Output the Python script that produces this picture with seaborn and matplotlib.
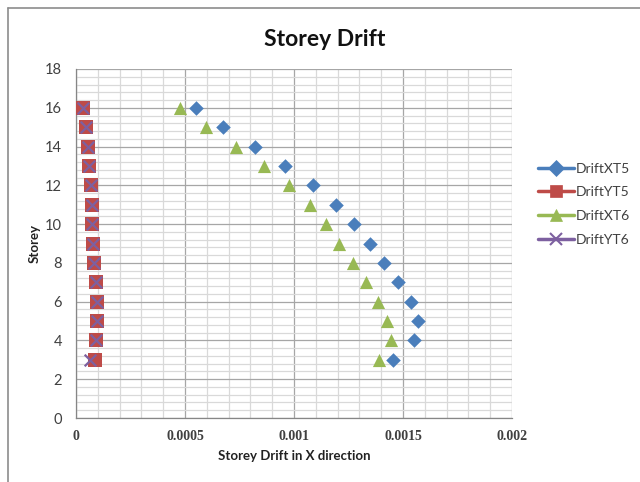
import matplotlib
matplotlib.use("Agg")
import matplotlib.pyplot as plt
from matplotlib.lines import Line2D
from matplotlib.ticker import MultipleLocator
import numpy as np
import pandas as pd
import seaborn as sns

storey = [16, 15, 14, 13, 12, 11, 10, 9, 8, 7, 6, 5, 4, 3]
drift_xt5 = [0.000549, 0.000673, 0.000821, 0.000959, 0.001087, 0.001193, 0.001277,
             0.001349, 0.001414, 0.001478, 0.001535, 0.001567, 0.001552, 0.001456]
drift_yt5 = [0.0000335, 0.0000445, 0.0000537, 0.000061, 0.0000688, 0.000072, 0.0000748,
             0.0000794, 0.000084, 0.0000904, 0.000095, 0.000095, 0.0000904, 0.0000858]
drift_xt6 = [0.000477, 0.000595, 0.000733, 0.000864, 0.000976, 0.001073, 0.001145,
             0.001208, 0.001271, 0.001330, 0.001387, 0.001428, 0.001444, 0.001390]
drift_yt6 = [0.0000335, 0.0000445, 0.0000537, 0.000061, 0.0000688, 0.000072, 0.0000748,
             0.0000794, 0.000084, 0.0000904, 0.000095, 0.000095, 0.0000904, 0.0000642]
series_names = ["DriftXT5", "DriftYT5", "DriftXT6", "DriftYT6"]
x_ticks = [0, 0.0005, 0.001, 0.0015, 0.002]
x_tick_labels = ["0", "0.0005", "0.001", "0.0015", "0.002"]

colors = {"DriftXT5": "#4a7ebb", "DriftYT5": "#be4b48",
          "DriftXT6": "#98b954", "DriftYT6": "#7d60a0"}
markers = {"DriftXT5": "D", "DriftYT5": "s", "DriftXT6": "^", "DriftYT6": "x"}
sizes = {"DriftXT5": 55, "DriftYT5": 90, "DriftXT6": 90, "DriftYT6": 70}

df = pd.concat([
    pd.DataFrame({"drift": vals, "storey": storey, "series": name})
    for name, vals in zip(series_names, [drift_xt5, drift_yt5, drift_xt6, drift_yt6])
], ignore_index=True)

sns.set_theme(style="white")
plt.rcParams["font.family"] = ["Lato", "DejaVu Sans"]

fig = plt.figure(figsize=(6.4, 4.82), dpi=100)
ax = fig.add_axes([76 / 640, 1 - 418 / 482, 436 / 640, 349 / 482])

# minor / major grid like a spreadsheet chart
ax.set_xlim(0, 0.002)
ax.set_ylim(0, 18)
ax.xaxis.set_major_locator(MultipleLocator(0.0005))
ax.xaxis.set_minor_locator(MultipleLocator(0.0001))
ax.yaxis.set_major_locator(MultipleLocator(2))
ax.yaxis.set_minor_locator(MultipleLocator(0.4))
ax.grid(which="minor", color="#d9d9d9", linewidth=0.9, zorder=0)
ax.grid(which="major", color="#a6a6a6", linewidth=0.9, zorder=0)
ax.set_axisbelow(True)

for name in series_names:
    sub = df[df["series"] == name]
    kw = dict(linewidth=0) if markers[name] != "x" else dict(linewidth=1.6)
    sns.scatterplot(data=sub, x="drift", y="storey", ax=ax, color=colors[name],
                    marker=markers[name], s=sizes[name], legend=False, zorder=3,
                    **kw)

for side in ["top", "right"]:
    ax.spines[side].set_visible(False)
for side in ["left", "bottom"]:
    ax.spines[side].set_color("#868686")
    ax.spines[side].set_linewidth(0.9)

ax.set_xticks(x_ticks)
ax.set_xticklabels(x_tick_labels, family=["Liberation Serif"], fontweight="bold",
                   fontsize=10, color="#404040")
ax.tick_params(axis="x", which="both", length=0, pad=9)
ax.tick_params(axis="y", which="both", length=0, pad=10, labelsize=10.5,
               labelcolor="#404040")

ax.set_xlabel("Storey Drift in X direction", fontsize=9.5, fontweight="bold",
              color="#222222", labelpad=5)
ax.set_ylabel("Storey", fontsize=9.5, fontweight="bold", color="#222222", labelpad=3)
fig.suptitle("Storey Drift", x=0.507, y=0.94, fontsize=16.5, fontweight="bold",
             color="#111111")

handles = [Line2D([0], [0], color=colors[n], marker=markers[n], linewidth=2.5,
                  markersize=8,
                  markeredgewidth=1.5 if markers[n] == "x" else 0.5)
           for n in series_names]
leg = fig.legend(handles, series_names, loc="upper left",
                 bbox_to_anchor=(532 / 640, 1 - 157 / 482), frameon=False,
                 fontsize=10, handlelength=2.6, handletextpad=0.15,
                 labelspacing=0.85, borderaxespad=0)
for t in leg.get_texts():
    t.set_color("#404040")

# outer chart border (top and left edges)
fig.add_artist(Line2D([7.5 / 640, 7.5 / 640], [0, 1 - 7.5 / 482],
                      transform=fig.transFigure, color="#8c8c8c", linewidth=1.2))
fig.add_artist(Line2D([7.5 / 640, 1], [1 - 7.5 / 482, 1 - 7.5 / 482],
                      transform=fig.transFigure, color="#8c8c8c", linewidth=1.2))

fig.savefig("out.png", dpi=100)
